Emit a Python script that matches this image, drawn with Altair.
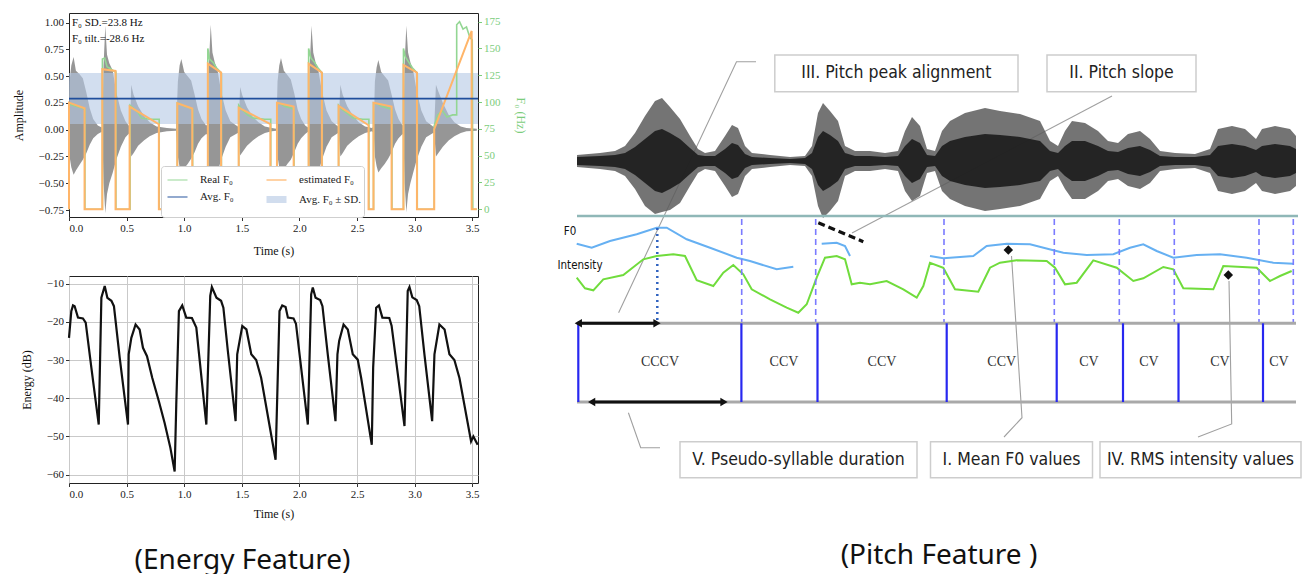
import altair as alt
import pandas as pd

SERIF = "Liberation Serif"
COND = "DejaVu Sans Condensed"
CAP = "Noto Sans"

# ------------------------------------------------------------------
# Top-left panel: amplitude waveform envelope + F0 tracks
# ------------------------------------------------------------------
T_DOMAIN = [0, 3.55]
AMP_DOMAIN = [-0.815, 1.09]
F0_DOMAIN = [-7.2, 183.0]

# waveform envelope per syllable: time (s), upper and lower amplitude
wave_t = [
    [0.000, 0.005, 0.020, 0.040, 0.060, 0.090, 0.120, 0.150, 0.180, 0.210, 0.250, 0.285],
    [0.290, 0.300, 0.315, 0.330, 0.350, 0.380, 0.410, 0.450, 0.490, 0.525],
    [0.530, 0.540, 0.560, 0.600, 0.650, 0.700, 0.760, 0.850, 0.930],
    [0.945, 0.960, 0.975, 1.000, 1.030, 1.060, 1.090, 1.120, 1.150, 1.190],
    [1.205, 1.215, 1.230, 1.245, 1.265, 1.290, 1.320, 1.360, 1.400, 1.465],
    [1.473, 1.485, 1.505, 1.545, 1.595, 1.645, 1.700, 1.760, 1.800],
    [1.810, 1.825, 1.840, 1.865, 1.895, 1.925, 1.955, 1.985, 2.015, 2.050, 2.075],
    [2.080, 2.090, 2.105, 2.120, 2.140, 2.165, 2.195, 2.235, 2.280, 2.335],
    [2.340, 2.355, 2.375, 2.415, 2.465, 2.515, 2.570, 2.630],
    [2.645, 2.655, 2.670, 2.685, 2.710, 2.740, 2.770, 2.800, 2.830, 2.860, 2.895],
    [2.903, 2.913, 2.928, 2.943, 2.963, 2.988, 3.018, 3.058, 3.100, 3.160],
    [3.170, 3.185, 3.205, 3.245, 3.295, 3.345, 3.400, 3.450, 3.540],
]
wave_up = [
    [0.00, 0.45, 0.60, 0.68, 0.55, 0.52, 0.48, 0.35, 0.20, 0.10, 0.04, 0.02],
    [0.05, 0.60, 0.97, 0.70, 0.62, 0.55, 0.35, 0.18, 0.08, 0.03],
    [0.03, 0.42, 0.33, 0.22, 0.13, 0.07, 0.03, 0.015, 0.01],
    [0.45, 0.60, 0.66, 0.54, 0.50, 0.46, 0.33, 0.19, 0.10, 0.04],
    [0.05, 0.62, 0.98, 0.72, 0.63, 0.55, 0.36, 0.18, 0.08, 0.03],
    [0.03, 0.40, 0.32, 0.21, 0.12, 0.07, 0.03, 0.015, 0.01],
    [0.45, 0.60, 0.67, 0.55, 0.51, 0.47, 0.34, 0.19, 0.10, 0.04, 0.02],
    [0.05, 0.62, 0.97, 0.72, 0.63, 0.55, 0.36, 0.18, 0.08, 0.03],
    [0.03, 0.42, 0.33, 0.22, 0.13, 0.07, 0.03, 0.015],
    [0.03, 0.45, 0.58, 0.65, 0.54, 0.50, 0.46, 0.33, 0.19, 0.10, 0.04],
    [0.05, 0.62, 0.97, 0.72, 0.63, 0.55, 0.36, 0.18, 0.08, 0.03],
    [0.03, 0.42, 0.36, 0.25, 0.14, 0.07, 0.03, 0.015, 0.01],
]
wave_lo = [
    [0.00, -0.25, -0.35, -0.42, -0.38, -0.33, -0.28, -0.22, -0.14, -0.08, -0.04, -0.02],
    [-0.05, -0.50, -0.78, -0.60, -0.50, -0.40, -0.28, -0.16, -0.07, -0.03],
    [-0.03, -0.25, -0.22, -0.15, -0.10, -0.06, -0.03, -0.015, -0.01],
    [-0.25, -0.35, -0.40, -0.36, -0.32, -0.27, -0.21, -0.13, -0.08, -0.04],
    [-0.05, -0.50, -0.75, -0.60, -0.50, -0.40, -0.28, -0.16, -0.07, -0.03],
    [-0.03, -0.24, -0.21, -0.15, -0.10, -0.06, -0.03, -0.015, -0.01],
    [-0.25, -0.35, -0.41, -0.37, -0.32, -0.28, -0.21, -0.13, -0.08, -0.04, -0.02],
    [-0.05, -0.50, -0.76, -0.60, -0.50, -0.40, -0.28, -0.16, -0.07, -0.03],
    [-0.03, -0.25, -0.22, -0.15, -0.10, -0.06, -0.03, -0.015],
    [-0.03, -0.25, -0.34, -0.40, -0.36, -0.32, -0.27, -0.21, -0.13, -0.08, -0.04],
    [-0.05, -0.50, -0.77, -0.60, -0.50, -0.40, -0.28, -0.16, -0.07, -0.03],
    [-0.03, -0.25, -0.22, -0.16, -0.10, -0.06, -0.03, -0.015, -0.01],
]

# estimated F0 (orange), Hz
est_t = [0.0, 0.0, 0.135, 0.135, 0.289, 0.289, 0.404, 0.404, 0.526, 0.526, 0.78, 0.78,
         0.94, 0.94, 1.07, 1.07, 1.205, 1.205, 1.32, 1.32, 1.473, 1.473, 1.748, 1.748,
         1.805, 1.805, 1.95, 1.95, 2.08, 2.08, 2.195, 2.195, 2.34, 2.34, 2.60, 2.60,
         2.643, 2.643, 2.80, 2.80, 2.903, 2.903, 3.02, 3.02, 3.17, 3.17, 3.495, 3.495, 3.54]
est_f0 = [0, 99.4, 94.2, 0, 0, 130.6, 129.0, 0, 0, 95.7, 79.3, 0,
          0, 98.9, 93.9, 0, 0, 135.8, 127.4, 0, 0, 94.8, 79.3, 0,
          0, 99.4, 95.7, 0, 0, 135.8, 127.4, 0, 0, 96.4, 78.4, 0,
          0, 99.4, 95.7, 0, 0, 134.6, 127.4, 0, 0, 74.6, 166.3, 0, 0]

# real F0 (green), Hz
real_t = [0.0, 0.0, 0.03, 0.06, 0.10, 0.138, 0.138, 0.29, 0.29, 0.31, 0.33, 0.36, 0.40, 0.407, 0.407,
          0.53, 0.53, 0.56, 0.60, 0.63, 0.70, 0.783, 0.783, 0.94, 0.94, 0.97, 1.0, 1.04, 1.073, 1.073,
          1.205, 1.205, 1.22, 1.25, 1.28, 1.323, 1.323, 1.473, 1.473, 1.50, 1.55, 1.60, 1.70, 1.751, 1.751,
          1.805, 1.805, 1.84, 1.87, 1.91, 1.953, 1.953, 2.08, 2.08, 2.10, 2.13, 2.16, 2.198, 2.198,
          2.34, 2.34, 2.37, 2.42, 2.47, 2.55, 2.603, 2.603, 2.643, 2.643, 2.68, 2.71, 2.75, 2.803, 2.803,
          2.903, 2.903, 2.92, 2.95, 2.98, 3.023, 3.023, 3.17, 3.17, 3.20, 3.24, 3.28, 3.33, 3.365, 3.365,
          3.39, 3.42, 3.45, 3.48, 3.50, 3.505, 3.54]
real_f0 = [0, 98, 97, 96, 95, 93, 0, 0, 140, 141, 133, 131, 128, 128, 0,
           0, 97, 94, 90, 85, 84, 84, 0, 0, 99, 98, 96, 95, 93, 0,
           0, 150, 140, 137, 132, 127, 0, 0, 97, 93, 88, 85, 84, 84, 0,
           0, 99, 98, 96, 95, 93, 0, 0, 150, 141, 137, 132, 127, 0,
           0, 97, 93, 89, 85, 84, 84, 0, 0, 99, 98, 96, 95, 93, 0,
           0, 150, 142, 137, 132, 127, 0, 0, 78, 88, 92, 86, 88, 88, 172,
           175, 168, 170, 160, 158, 0, 0]

avg_f0 = 103.2
sd_f0 = 23.8
stat_lines = ["F₀ SD.=23.8 Hz", "F₀ tilt.=-28.6 Hz"]

# ------------------------------------------------------------------
# Bottom-left panel: energy contour
# ------------------------------------------------------------------
en_t = [0, 0.02, 0.035, 0.049, 0.078, 0.121, 0.145, 0.194, 0.258, 0.281, 0.31, 0.333, 0.368, 0.39,
        0.44, 0.512, 0.518, 0.541, 0.578, 0.613, 0.642, 0.677, 0.723, 0.78, 0.83, 0.88, 0.917,
        0.931, 0.954, 0.983, 1.018, 1.067, 1.105, 1.192, 1.226, 1.24, 1.28, 1.32, 1.34, 1.379,
        1.446, 1.46, 1.504, 1.54, 1.582, 1.625, 1.668, 1.793, 1.827, 1.851, 1.88, 1.9, 1.949,
        1.97, 2.073, 2.102, 2.116, 2.14, 2.18, 2.2, 2.246, 2.313, 2.33, 2.345, 2.383, 2.42,
        2.463, 2.506, 2.536, 2.628, 2.64, 2.666, 2.69, 2.72, 2.78, 2.8, 2.912, 2.94, 2.955,
        2.98, 3.018, 3.04, 3.085, 3.152, 3.172, 3.215, 3.26, 3.302, 3.345, 3.389, 3.49, 3.51, 3.547]
en_db = [-24.2, -17.2, -15.7, -15.9, -18.9, -19.1, -20.2, -32, -46.9, -13.7, -10.6, -13.7, -14.5,
         -15.9, -29.4, -46.9, -28.5, -24.2, -20.7, -22, -26.8, -29, -34.7, -40.8, -46.5, -53,
         -59.2, -41.7, -17.2, -15.7, -18.9, -19, -21.5, -46.9, -13.2, -10.9, -13.7, -14.5, -16.3,
         -27.7, -46, -28.5, -21.1, -22, -28.5, -30, -34.7, -56.1, -17.2, -15.7, -16.1, -18.9,
         -19.1, -20.5, -46.9, -12.8, -11, -13.7, -14.3, -15.9, -28.5, -46, -28.5, -25, -20.7,
         -22, -28.5, -29.9, -34.7, -52.2, -32, -16.3, -15.7, -18.9, -19, -21, -47.3, -11.9,
         -10.9, -13.6, -14.3, -15.9, -28.5, -46, -28.5, -20.7, -22, -28.5, -30, -34.7, -51.3,
         -50, -52.2]

# ------------------------------------------------------------------
# Right diagram (diagram units: horizontal position, vertical level)
# ------------------------------------------------------------------
XR_DOMAIN = [548, 1302]
YR_DOMAIN = [12, 500]

# speech waveform: outer envelope and dark core (position, top, bottom)
rwave = [(577, 154, 166), (600, 152, 168), (615, 150, 170), (625, 145, 175), (635, 132, 188),
         (645, 115, 205), (655, 100, 213), (662, 97, 211), (670, 106, 209), (680, 118, 202),
         (690, 135, 185), (698, 148, 172), (705, 152, 168), (715, 150, 170), (725, 135, 185),
         (732, 124, 196), (738, 127, 193), (745, 145, 175), (752, 152, 168), (770, 154, 166),
         (790, 156, 164), (805, 155, 165), (812, 145, 175), (818, 112, 205), (823, 102, 217),
         (830, 110, 210), (838, 120, 200), (845, 145, 175), (855, 150, 170), (870, 150, 170),
         (885, 152, 168), (898, 150, 170), (905, 130, 190), (912, 116, 200), (920, 125, 195),
         (927, 148, 172), (935, 150, 170), (942, 130, 190), (950, 120, 198), (965, 112, 205),
         (985, 107, 210), (1000, 110, 208), (1020, 113, 205), (1040, 120, 198), (1050, 140, 180),
         (1058, 145, 175), (1065, 130, 188), (1072, 120, 198), (1085, 122, 198), (1098, 130, 190),
         (1108, 140, 180), (1118, 142, 178), (1128, 133, 185), (1140, 130, 188), (1150, 138, 182),
         (1160, 150, 170), (1175, 152, 168), (1195, 153, 167), (1210, 148, 172), (1218, 128, 190),
         (1232, 125, 193), (1245, 128, 190), (1256, 138, 182), (1262, 128, 190), (1275, 125, 193),
         (1290, 128, 190), (1296, 135, 185)]
rcore = [(577, 156, 164), (600, 155, 165), (615, 154, 166), (625, 152, 168), (635, 146, 174),
         (645, 138, 182), (655, 130, 190), (662, 128, 192), (670, 132, 188), (680, 138, 182),
         (690, 147, 173), (698, 154, 166), (705, 155, 165), (715, 155, 165), (725, 148, 172),
         (732, 142, 178), (738, 144, 176), (745, 153, 167), (752, 156, 164), (770, 157, 163),
         (790, 158, 162), (805, 157, 163), (812, 152, 168), (818, 136, 184), (823, 130, 190),
         (830, 134, 186), (838, 140, 180), (845, 152, 168), (855, 155, 165), (870, 155, 165),
         (885, 156, 164), (898, 155, 165), (905, 145, 175), (912, 138, 182), (920, 142, 178),
         (927, 154, 166), (935, 155, 165), (942, 145, 175), (950, 140, 180), (965, 136, 184),
         (985, 133, 187), (1000, 134, 186), (1020, 136, 184), (1040, 140, 180), (1050, 150, 170),
         (1058, 152, 168), (1065, 145, 175), (1072, 140, 180), (1085, 140, 180), (1098, 145, 175),
         (1108, 150, 170), (1118, 151, 169), (1128, 147, 173), (1140, 145, 175), (1150, 149, 171),
         (1160, 155, 165), (1175, 156, 164), (1195, 156, 164), (1210, 154, 166), (1218, 145, 175),
         (1232, 143, 177), (1245, 145, 175), (1256, 149, 171), (1262, 145, 175), (1275, 143, 177),
         (1290, 145, 175), (1296, 148, 172)]

f0_curve = {
    1: [(576.7, 242.7), (591.7, 246.7), (610, 240), (636.7, 233.3), (656.7, 226.7), (666.7, 226.7),
        (686.7, 238.3), (710, 246.7), (736.7, 256.7), (750, 260), (776.7, 268.3), (793.3, 265.7)],
    2: [(821.7, 242.7), (836.7, 241.7), (845, 245), (850, 255)],
    3: [(930, 255), (943.3, 257.3), (973.3, 255), (986.7, 245), (1006.7, 242.7), (1030, 243.3),
        (1053.3, 249.3), (1063.3, 251.7), (1086.7, 254), (1113.3, 253.3), (1130, 246.7),
        (1143.3, 243.3), (1156.7, 250), (1173.3, 256.7), (1196.7, 254), (1220, 253.3),
        (1246.7, 256.7), (1273.3, 261.7), (1293.3, 262.7)],
}
intensity_curve = [(576.7, 276.7), (585, 287.3), (593.3, 289.3), (603.3, 278.3), (623.3, 274),
                   (643.3, 258.3), (656.7, 255), (673.3, 253.3), (685, 255), (696.7, 279.3),
                   (713.3, 285), (723.3, 271.7), (733.3, 264), (743.3, 273.3), (751.7, 288.3),
                   (770, 298.3), (786.7, 306.7), (798.3, 311.7), (806.7, 303.3), (816.7, 276.7),
                   (825, 256.7), (836.7, 255), (845, 258.3), (851.7, 283.3), (860, 281.7),
                   (870, 283.3), (886.7, 280), (903.3, 288.3), (916.7, 296.7), (923.3, 285),
                   (930, 261.7), (943.3, 266.7), (955, 288.3), (978.3, 290.7), (990, 266.7),
                   (1000, 261.7), (1016.7, 259.3), (1046.7, 260), (1055, 266.7), (1065, 283.3),
                   (1076.7, 281.7), (1093.3, 259.3), (1116.7, 266.7), (1133.3, 280), (1143.3, 277.3),
                   (1163.3, 266), (1173.3, 268.3), (1183.3, 287.3), (1213.3, 288.3), (1223.3, 265),
                   (1256.7, 266.7), (1270, 280), (1280, 275), (1291.7, 270)]

dashed_bounds = [741.7, 815.7, 944, 1054.3, 1119.3, 1174.3, 1259, 1293.3]
peak_mark = 657.3
box_bounds = [578.3, 741.4, 817.5, 946.7, 1056.7, 1123, 1178.5, 1263]
syllables = ["CCCV", "CCV", "CCV", "CCV", "CV", "CV", "CV", "CV"]
syllable_pos = [660, 784, 882, 1001.7, 1089, 1149, 1220, 1279]
callouts = [
    ("III. Pitch peak alignment", 774.8, 1018, 54, 90.7),
    ("II. Pitch slope", 1047, 1196, 54, 90.7),
    ("V. Pseudo-syllable duration", 680, 917, 440.7, 476.7),
    ("I. Mean F0 values", 930.5, 1092.5, 440.7, 476.7),
    ("IV. RMS intensity values", 1100, 1301, 440.7, 476.7),
]
leaders = {
    "III": [(756, 60.7), (736.5, 60.7), (618.6, 311.7)],
    "II": [(1112, 95), (852, 232)],
    "V": [(628.4, 411.7), (640.7, 446.7), (660, 446.7)],
    "I": [(1011.5, 255), (1022, 416.7), (1004, 436)],
    "IV": [(1229, 280), (1231.7, 423), (1198, 436)],
}
diamonds = [(1008.3, 249), (1228.3, 274)]
slope_dash = [(818.3, 221.7), (863.3, 240.7)]
arrows = [(578.3, 657.0, 322.3), (591.6, 724.0, 401.0)]
track_line = (577, 1298, 215)
box_lines = [(577, 1296, 322.3), (577, 1296, 401.0)]

# ------------------------------------------------------------------
# Build data frames
# ------------------------------------------------------------------
wave_rows = []
for ts, us, ls in zip(wave_t, wave_up, wave_lo):
    for t, u, l in zip(ts, us, ls):
        wave_rows.append({"t": t, "up": u, "lo": l})
wave_df = pd.DataFrame(wave_rows)

series_dom = ["Real F₀", "estimated F₀", "Avg. F₀", "Avg. F₀ ± SD."]
series_col = ["#93d693", "#ffb569", "#1f4e9c", "#b4c8e4"]

est_df = pd.DataFrame({"t": est_t, "f0": est_f0, "i": range(len(est_t)), "series": series_dom[1]})
real_df = pd.DataFrame({"t": real_t, "f0": real_f0, "i": range(len(real_t)), "series": series_dom[0]})
avg_df = pd.DataFrame({"f0": [avg_f0], "series": [series_dom[2]]})
band_df = pd.DataFrame({"lo": [avg_f0 - sd_f0], "hi": [avg_f0 + sd_f0], "series": [series_dom[3]]})
en_df = pd.DataFrame({"t": en_t, "db": en_db, "i": range(len(en_t))})

LEG = alt.Legend(
    title=None, orient="none", legendX=92, legendY=153, columns=2, direction="horizontal",
    fillColor="white", strokeColor="#cfcfcf", padding=3, cornerRadius=3,
    symbolType="stroke", symbolSize=400, labelFont=SERIF, labelFontSize=11,
    labelColor="#222", columnPadding=18, rowPadding=0, labelOffset=9,
)
color_enc = alt.Color("series:N", scale=alt.Scale(domain=series_dom, range=series_col), legend=LEG)
sw_enc = alt.StrokeWidth("series:N", scale=alt.Scale(type="ordinal", domain=series_dom,
                                                     range=[1.6, 2.0, 1.6, 7]), legend=LEG)

x_top = alt.X("t:Q", scale=alt.Scale(domain=T_DOMAIN, nice=False, zero=False),
              axis=alt.Axis(title="Time (s)", values=[0, 0.5, 1, 1.5, 2, 2.5, 3, 3.5],
                            format=".1f", grid=False, titlePadding=12))

f0_scale = alt.Scale(domain=F0_DOMAIN, nice=False, zero=False)
F0_GREEN = "#7ccd7c"
f0_axis = alt.Axis(orient="right", title="F₀ (Hz)", values=[0, 25, 50, 75, 100, 125, 150, 175],
                   labelColor=F0_GREEN, titleColor=F0_GREEN, tickColor=F0_GREEN, grid=False,
                   titlePadding=13)

wave = alt.Chart(wave_df).mark_area(color="#8d8d8d", opacity=0.92, interpolate="linear").encode(
    x=x_top,
    y=alt.Y("up:Q", scale=alt.Scale(domain=AMP_DOMAIN, nice=False, zero=False),
            axis=alt.Axis(title="Amplitude", values=[-0.75, -0.5, -0.25, 0, 0.25, 0.5, 0.75, 1.0],
                          format=".2f", grid=False, titlePadding=13)),
    y2="lo:Q",
)

band = alt.Chart(band_df).mark_rect(opacity=0.6).encode(
    x=alt.datum(T_DOMAIN[0]), x2=alt.datum(T_DOMAIN[1]),
    y=alt.Y("lo:Q", scale=f0_scale, axis=f0_axis), y2="hi:Q",
    color=color_enc,
)
real_line = alt.Chart(real_df).mark_line(interpolate="linear").encode(
    x=x_top, y=alt.Y("f0:Q", scale=f0_scale, axis=f0_axis), order="i:Q",
    color=color_enc, strokeWidth=sw_enc,
)
est_line = alt.Chart(est_df).mark_line(interpolate="linear").encode(
    x=x_top, y=alt.Y("f0:Q", scale=f0_scale, axis=f0_axis), order="i:Q",
    color=color_enc, strokeWidth=sw_enc,
)
avg_rule = alt.Chart(avg_df).mark_rule().encode(
    y=alt.Y("f0:Q", scale=f0_scale, axis=f0_axis), color=color_enc, strokeWidth=sw_enc,
)
stat1 = alt.Chart(pd.DataFrame({"txt": [stat_lines[0]]})).mark_text(
    align="left", baseline="middle", font=SERIF, fontSize=11, color="#111").encode(
    x=alt.value(3), y=alt.value(10), text="txt:N")
stat2 = alt.Chart(pd.DataFrame({"txt": [stat_lines[1]]})).mark_text(
    align="left", baseline="middle", font=SERIF, fontSize=11, color="#111").encode(
    x=alt.value(3), y=alt.value(26), text="txt:N")

f0_layer = alt.layer(band, real_line, est_line, avg_rule)
top_left = alt.layer(wave, f0_layer, stat1, stat2).resolve_scale(y="independent").properties(
    width=409, height=204)

energy = alt.Chart(en_df).mark_line(color="#111", strokeWidth=2.2, interpolate="linear").encode(
    x=alt.X("t:Q", scale=alt.Scale(domain=T_DOMAIN, nice=False, zero=False),
            axis=alt.Axis(title="Time (s)", values=[0, 0.5, 1, 1.5, 2, 2.5, 3, 3.5], format=".1f",
                          grid=True, titlePadding=9)),
    y=alt.Y("db:Q", scale=alt.Scale(domain=[-62.2, -8], nice=False, zero=False),
            axis=alt.Axis(title="Energy (dB)", values=[-10, -20, -30, -40, -50, -60], grid=True,
                          titlePadding=13)),
    order="i:Q",
).properties(
    width=409, height=207,
    title=alt.TitleParams("(Energy Feature)", orient="bottom", font=CAP, fontSize=28,
                          fontWeight="normal", color="#111", offset=27, dx=-31),
)

left_col = alt.vconcat(top_left, energy, spacing=18)

# ---------------- right diagram ----------------
XR = alt.Scale(domain=XR_DOMAIN, nice=False, zero=False)
YR = alt.Scale(domain=YR_DOMAIN, nice=False, zero=False, reverse=True)


def rx(f="x"):
    return alt.X(f"{f}:Q", scale=XR, axis=None)


def ry(f="y"):
    return alt.Y(f"{f}:Q", scale=YR, axis=None)


rwave_df = pd.DataFrame(rwave, columns=["x", "top", "bot"])
rw = alt.Chart(rwave_df).mark_area(color="#5c5c5c", opacity=0.85).encode(x=rx(), y=ry("top"), y2="bot:Q")
rcore_df = pd.DataFrame(rcore, columns=["x", "top", "bot"])
rc = alt.Chart(rcore_df).mark_area(color="#1c1c1c", opacity=0.9).encode(x=rx(), y=ry("top"), y2="bot:Q")

track_df = pd.DataFrame([track_line], columns=["x", "x2", "y"])
track = alt.Chart(track_df).mark_rule(color="#8fb7b7", strokeWidth=2.5).encode(
    x=rx(), x2="x2:Q", y=ry())

f0_rows = [{"x": x, "y": y, "seg": s, "i": k} for s, pts in f0_curve.items() for k, (x, y) in enumerate(pts)]
f0c = alt.Chart(pd.DataFrame(f0_rows)).mark_line(color="#66b0f2", strokeWidth=2).encode(
    x=rx(), y=ry(), detail="seg:N", order="i:Q")

int_df = pd.DataFrame([{"x": x, "y": y, "i": k} for k, (x, y) in enumerate(intensity_curve)])
intc = alt.Chart(int_df).mark_line(color="#70dc3c", strokeWidth=2).encode(x=rx(), y=ry(), order="i:Q")

dash_df = pd.DataFrame({"x": dashed_bounds, "y": [218] * len(dashed_bounds), "y2": [322] * len(dashed_bounds)})
dashes = alt.Chart(dash_df).mark_rule(color="#7b7bff", strokeWidth=1.6, strokeDash=[6, 4]).encode(
    x=rx(), y=ry(), y2="y2:Q")
peak_df = pd.DataFrame({"x": [peak_mark], "y": [227], "y2": [321]})
peak = alt.Chart(peak_df).mark_rule(color="#2f62c0", strokeWidth=2.5, strokeDash=[2, 4]).encode(
    x=rx(), y=ry(), y2="y2:Q")

bl_df = pd.DataFrame(box_lines, columns=["x", "x2", "y"])
blines = alt.Chart(bl_df).mark_rule(color="#a9a9a9", strokeWidth=3).encode(x=rx(), x2="x2:Q", y=ry())
bb_df = pd.DataFrame({"x": box_bounds, "y": [322.3] * len(box_bounds), "y2": [401.0] * len(box_bounds)})
bbounds = alt.Chart(bb_df).mark_rule(color="#2828f0", strokeWidth=2.2).encode(x=rx(), y=ry(), y2="y2:Q")
syl_df = pd.DataFrame({"x": syllable_pos, "y": [361] * len(syllables), "txt": syllables})
syl = alt.Chart(syl_df).mark_text(font=SERIF, fontSize=14, color="#333").encode(x=rx(), y=ry(), text="txt:N")

arr_df = pd.DataFrame(arrows, columns=["x", "x2", "y"])
arr_line = alt.Chart(arr_df).mark_rule(color="#111", strokeWidth=3).encode(x=rx(), x2="x2:Q", y=ry())
heads = []
for a, b, y in arrows:
    heads.append({"x": a, "y": y, "shape": "triangle-left"})
    heads.append({"x": b, "y": y, "shape": "triangle-right"})
heads_df = pd.DataFrame(heads)
arr_heads = alt.Chart(heads_df).mark_point(filled=True, color="#111", size=70, opacity=1).encode(
    x=rx(), y=ry(), shape=alt.Shape("shape:N", scale=None))

lead_rows = [{"x": x, "y": y, "id": k, "i": n} for k, pts in leaders.items() for n, (x, y) in enumerate(pts)]
lead = alt.Chart(pd.DataFrame(lead_rows)).mark_line(color="#a0a0a0", strokeWidth=1.1).encode(
    x=rx(), y=ry(), detail="id:N", order="i:Q")

sd_df = pd.DataFrame([{"x": x, "y": y, "i": k} for k, (x, y) in enumerate(slope_dash)])
sdash = alt.Chart(sd_df).mark_line(color="#111", strokeWidth=3.2, strokeDash=[7, 4]).encode(
    x=rx(), y=ry(), order="i:Q")

dia_df = pd.DataFrame(diamonds, columns=["x", "y"])
dia = alt.Chart(dia_df).mark_point(shape="diamond", filled=True, color="#111", size=90, opacity=1).encode(
    x=rx(), y=ry())

co_df = pd.DataFrame(callouts, columns=["txt", "x", "x2", "y", "y2"])
co_box = alt.Chart(co_df).mark_rect(fill="white", stroke="#cdcdcd", strokeWidth=1.5).encode(
    x=rx(), x2="x2:Q", y=ry(), y2="y2:Q")
co_df2 = pd.DataFrame({"txt": [c[0] for c in callouts],
                       "x": [(c[1] + c[2]) / 2 for c in callouts],
                       "y": [(c[3] + c[4]) / 2 for c in callouts]})
co_txt = alt.Chart(co_df2).mark_text(font=COND, fontSize=17.5, color="#222").encode(
    x=rx(), y=ry(), text="txt:N")

lab_df = pd.DataFrame({"txt": ["F0", "Intensity"], "x": [570, 580], "y": [231, 265]})
labs = alt.Chart(lab_df).mark_text(font=COND, fontSize=11.5, color="#111").encode(
    x=rx(), y=ry(), text="txt:N")

right = alt.layer(
    lead, rw, rc, track, f0c, intc, dashes, peak, blines, bbounds, syl, arr_line, arr_heads,
    sdash, dia, co_box, co_txt, labs,
).properties(
    width=XR_DOMAIN[1] - XR_DOMAIN[0], height=YR_DOMAIN[1] - YR_DOMAIN[0],
    view=alt.ViewBackground(stroke="transparent"),
    title=alt.TitleParams("(Pitch Feature )", orient="bottom", font=CAP, fontSize=28,
                          fontWeight="normal", color="#111", offset=41, dx=14),
)

chart = alt.hconcat(left_col, right, spacing=20).properties(
    padding={"left": 11, "top": 12, "right": 0, "bottom": 0},
    background="white",
).configure_view(stroke="#222", strokeWidth=1).configure_axis(
    labelFont=SERIF, labelFontSize=11, labelColor="#222", titleFont=SERIF, titleFontSize=12,
    titleFontWeight="normal", titleColor="#111", tickSize=3.5, tickColor="#333", domain=False,
    gridColor="#c9c9c9", gridWidth=1,
)

chart.save("out.html", embed_options={"renderer": "svg", "actions": False})
